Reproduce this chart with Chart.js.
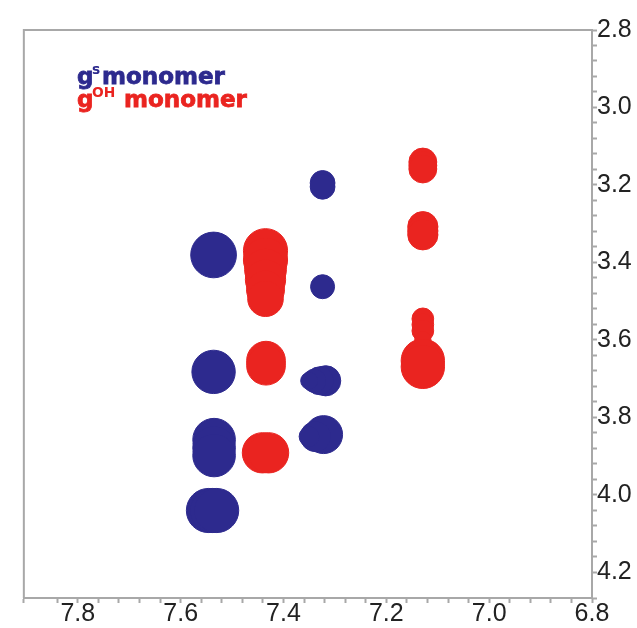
<!DOCTYPE html>
<html>
<head>
<meta charset="utf-8">
<script src="https://cdn.jsdelivr.net/npm/chart.js@4"></script>
<style>
  html, body { margin:0; padding:0; background:#fff; }
  #wrap { width:637px; height:628px; position:relative; }
</style>
</head>
<body>
<div id="wrap"><canvas id="nmr"></canvas></div>
<script>
// contour blobs as overlapping peak components: centre (ppm) and half-width (ppm)
const bluePeakX = [7.324, 7.324, 7.536, 7.324, 7.536,
                   7.318, 7.330, 7.340, 7.350,
                   7.322, 7.338, 7.350,
                   7.535, 7.535, 7.535, 7.546, 7.538, 7.530]
const bluePeakY = [3.195, 3.205, 3.381, 3.463, 3.683,
                   3.706, 3.706, 3.706, 3.706,
                   3.845, 3.850, 3.850,
                   3.858, 3.879, 3.899, 4.041, 4.041, 4.041]
const bluePeakW = [0.032, 0.032, 0.059, 0.031, 0.056,
                   0.039, 0.036, 0.030, 0.022,
                   0.049, 0.039, 0.026,
                   0.055, 0.055, 0.055, 0.057, 0.057, 0.057]

const redPeakX = [7.129, 7.129, 7.129, 7.129, 7.129, 7.129, 7.129, 7.129, 7.129, 7.129, 7.129, 7.129,
                  7.435, 7.435, 7.435, 7.435, 7.435, 7.435, 7.434, 7.434, 7.441, 7.429]
const redPeakY = [3.141, 3.150, 3.159, 3.308, 3.319, 3.329, 3.546, 3.561, 3.577, 3.600, 3.654, 3.670,
                  3.370, 3.394, 3.419, 3.445, 3.471, 3.494, 3.654, 3.667, 3.892, 3.892]
const redPeakW = [0.036, 0.036, 0.036, 0.039, 0.039, 0.039, 0.028, 0.028, 0.028, 0.021, 0.056, 0.056,
                  0.057, 0.057, 0.054, 0.052, 0.049, 0.046, 0.050, 0.050, 0.052, 0.052]

const xRange = [6.8, 7.905]
const yRange = [2.8, 4.267]
const tickStep = 0.04
const labelStep = 0.2

const BLUE = '#2d2a8e'
const RED  = '#ea2420'
const AXIS = '#a8a8a8'

const peaks = (xs, ys, ws) => xs.map((x, i) => ({ x, y: ys[i], w: ws[i], r: 0 }))

const isMajor = v => Math.abs(v / labelStep - Math.round(v / labelStep)) < 1e-6

const frame = {
  id: 'frame',
  afterDraw(chart) {
    const { ctx, chartArea: a } = chart
    ctx.save()
    ctx.strokeStyle = AXIS
    ctx.lineWidth = 2
    ctx.beginPath()
    ctx.moveTo(a.left, a.bottom); ctx.lineTo(a.left, a.top); ctx.lineTo(a.right, a.top)
    ctx.stroke()
    ctx.restore()
  }
}

// legend with superscripts: g^s / g^OH monomer
const legendText = {
  id: 'legendText',
  afterDraw(chart) {
    const ctx = chart.ctx
    const fam = '"DejaVu Sans", "Noto Sans", sans-serif'
    ctx.save()
    ctx.font = `bold 20px ${fam}`
    const s = 20 * 123 / ctx.measureText('monomer').width
    const rows = [
      { sup: 's',  color: BLUE, base: 84,  mono: 102 },
      { sup: 'OH', color: RED,  base: 107, mono: 124 },
    ]
    rows.forEach(r => {
      ctx.fillStyle = r.color
      ctx.strokeStyle = r.color
      ctx.lineWidth = 0.8
      ctx.textBaseline = 'alphabetic'
      ctx.font = `bold ${s}px ${fam}`
      ctx.fillText('g', 77, r.base); ctx.strokeText('g', 77, r.base)
      ctx.font = `bold ${s * 0.6}px ${fam}`
      ctx.fillText(r.sup, 92, r.base - s * 0.45)
      ctx.font = `bold ${s}px ${fam}`
      ctx.fillText('monomer', r.mono, r.base); ctx.strokeText('monomer', r.mono, r.base)
    })
    ctx.restore()
  }
}

const tickFont = { family: '"Liberation Sans", Arial, sans-serif', size: 25 }

const chart = new Chart(document.getElementById('nmr'), {
  type: 'bubble',
  data: {
    datasets: [
      { label: 'gs monomer',  data: peaks(bluePeakX, bluePeakY, bluePeakW), backgroundColor: BLUE, borderColor: BLUE, borderWidth: 1 },
      { label: 'gOH monomer', data: peaks(redPeakX, redPeakY, redPeakW),   backgroundColor: RED,  borderColor: RED,  borderWidth: 1 },
    ],
  },
  options: {
    responsive: true, maintainAspectRatio: false, animation: false,
    layout: { padding: { left: 23, top: 30, right: 0, bottom: 0 } },
    plugins: { legend: { display: false }, tooltip: { enabled: false } },
    scales: {
      x: {
        type: 'linear', reverse: true, min: xRange[0], max: xRange[1], position: 'bottom',
        afterFit: s => { s.height = 30 },
        border: { color: AXIS, width: 2 },
        grid: { drawOnChartArea: false, drawTicks: true, tickLength: 5, color: AXIS, tickWidth: 2 },
        ticks: { stepSize: tickStep, autoSkip: false, maxRotation: 0, padding: -4, color: '#222', font: tickFont,
                 callback: v => isMajor(v) ? v.toFixed(1) : '' },
      },
      y: {
        type: 'linear', reverse: true, min: yRange[0], max: yRange[1], position: 'right',
        afterFit: s => { s.width = 45 },
        border: { color: AXIS, width: 2 },
        grid: { drawOnChartArea: false, drawTicks: true, tickLength: 5, color: AXIS, tickWidth: 2 },
        ticks: { stepSize: tickStep, autoSkip: false, padding: 0, color: '#222', font: tickFont,
                 callback: v => isMajor(v) ? v.toFixed(1) : '' },
      },
    },
  },
  plugins: [frame, legendText],
})

// bubble radius in px from the ppm half-width, via the laid-out y scale
const ys = chart.scales.y
chart.data.datasets.forEach(ds => ds.data.forEach(p => {
  p.r = Math.abs(ys.getPixelForValue(p.y + p.w) - ys.getPixelForValue(p.y))
}))
chart.update()
</script>
</body>
</html>
